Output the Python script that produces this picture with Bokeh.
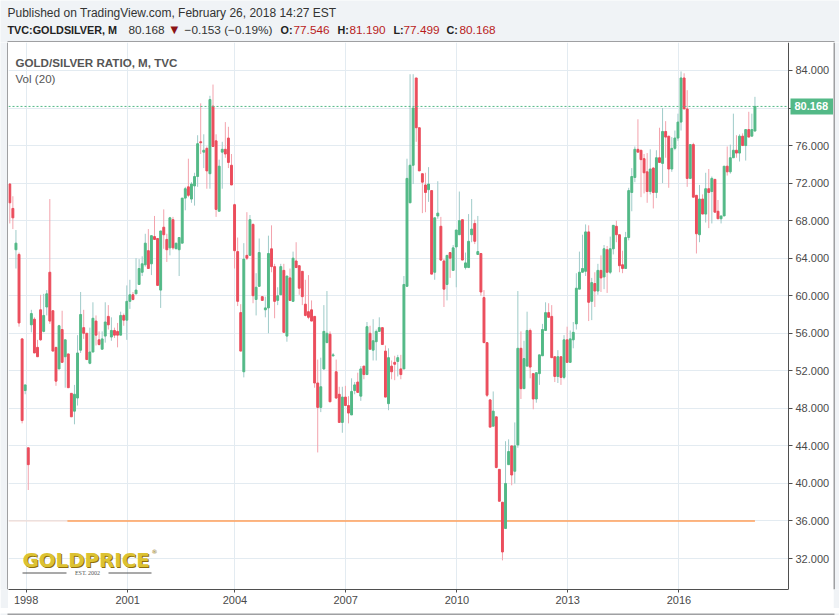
import numpy as np
from bokeh.plotting import figure
from bokeh.models import (ColumnDataSource, Range1d, FixedTicker, NumeralTickFormatter,
                          CustomJSTickFormatter, Label, BoxAnnotation, Span)
from bokeh.layouts import column, row
from bokeh.embed import file_html
from bokeh.resources import INLINE
from bokeh.core.properties import value

# ---------------- data (monthly candles) ----------------
opens = [71.9, 69.3, 64.9, 64.4, 55.4, 49.9, 43.8, 56.9, 57.5, 54.5, 58.5, 56.2, 58.8, 62.5, 58.4, 54.5,
         52.2, 56.4, 53.5, 53.8, 49.6, 47.7, 49.1, 54.2, 56.6, 56.0, 52.8, 54.0, 57.3, 55.3, 54.3, 55.7,
         57.8, 55.6, 56.3, 56.2, 55.8, 57.9, 57.4, 59.4, 60.1, 60.2, 61.2, 62.5, 63.3, 64.8, 63.4, 66.3,
         66.1, 60.6, 67.3, 66.0, 65.1, 68.1, 65.0, 64.9, 65.6, 70.4, 71.6, 70.3, 71.7, 72.7, 76.4, 75.3,
         75.7, 73.0, 80.2, 76.5, 69.0, 75.3, 75.6, 76.8, 73.9, 69.7, 64.7, 58.2, 51.9, 64.3, 64.3, 67.6,
         59.6, 61.0, 59.9, 58.5, 58.7, 65.0, 63.1, 59.5, 60.1, 62.7, 55.7, 61.9, 59.4, 63.7, 63.2, 62.6,
         59.1, 58.3, 58.5, 57.8, 50.7, 48.1, 52.2, 55.0, 55.9, 53.6, 51.9, 49.5, 46.5, 49.2, 48.3, 47.3,
         49.9, 50.8, 49.3, 52.5, 51.6, 56.0, 54.2, 55.1, 56.2, 56.6, 54.1, 48.5, 52.5, 52.9, 53.0, 52.2,
         52.2, 61.0, 69.9, 73.9, 83.2, 77.9, 73.0, 71.8, 71.3, 71.2, 62.5, 68.5, 67.4, 63.7, 61.2, 64.6,
         62.7, 65.2, 66.5, 68.1, 63.0, 63.0, 66.5, 67.7, 64.4, 64.5, 59.8, 55.0, 48.9, 46.1, 47.1, 41.5,
         38.0, 35.2, 42.0, 44.0, 41.3, 44.1, 54.4, 50.1, 52.5, 56.3, 51.7, 49.0, 51.7, 53.6, 56.3, 58.2,
         57.8, 53.5, 51.4, 53.5, 51.3, 55.3, 52.9, 55.3, 57.0, 60.7, 62.5, 62.6, 66.8, 59.4, 61.3, 60.5,
         62.7, 62.0, 64.9, 62.5, 65.0, 67.4, 66.5, 63.3, 62.9, 66.2, 71.0, 72.6, 75.6, 75.5, 74.6, 73.2,
         71.1, 73.6, 71.0, 74.7, 74.1, 77.5, 77.0, 73.5, 75.7, 76.8, 78.5, 83.2, 79.9, 72.5, 76.1, 70.7,
         66.5, 70.3, 68.7, 71.4, 71.1, 72.4, 69.0, 68.2, 68.5, 73.8, 73.2, 74.7, 75.5, 75.2, 77.0, 76.0,
         77.7, 77.0, 77.546]
highs = [72.0, 70.6, 67.0, 64.6, 55.5, 50.5, 43.8, 58.5, 57.7, 55.3, 60.1, 60.2, 60.6, 70.3, 58.4, 54.5,
         56.9, 58.4, 55.3, 53.8, 49.6, 50.5, 55.8, 60.4, 58.5, 56.0, 56.6, 59.3, 57.9, 56.2, 56.2, 59.3,
         59.0, 57.7, 56.6, 57.1, 58.3, 58.1, 61.1, 61.7, 60.4, 64.0, 63.9, 64.2, 66.6, 67.1, 66.4, 68.5,
         66.1, 66.9, 69.2, 66.6, 68.4, 68.4, 65.6, 66.2, 70.4, 71.6, 74.6, 72.1, 73.1, 77.1, 80.5, 77.2,
         75.9, 81.3, 82.5, 77.2, 74.5, 76.4, 78.5, 78.0, 75.1, 69.8, 66.2, 59.1, 65.6, 68.9, 68.6, 67.7,
         62.4, 66.1, 59.9, 59.9, 66.4, 67.5, 63.4, 60.9, 63.4, 63.4, 62.1, 62.9, 64.7, 65.7, 63.2, 62.6,
         61.7, 62.2, 59.5, 57.8, 53.2, 53.4, 59.0, 60.5, 56.2, 53.9, 53.2, 50.3, 50.3, 50.4, 49.3, 51.2,
         50.8, 51.8, 52.5, 52.5, 57.2, 56.8, 57.5, 56.4, 57.7, 56.6, 54.7, 54.4, 53.1, 53.6, 53.7, 53.7,
         62.1, 74.6, 83.6, 83.6, 83.2, 77.9, 73.0, 73.1, 73.7, 71.2, 68.3, 72.2, 68.4, 63.9, 64.3, 64.6,
         65.4, 67.0, 71.1, 68.1, 64.6, 68.7, 70.3, 68.1, 68.5, 64.5, 60.6, 55.0, 49.0, 49.8, 47.1, 41.5,
         38.0, 44.5, 44.7, 44.0, 46.5, 60.5, 56.2, 55.2, 58.3, 56.5, 51.7, 51.8, 53.7, 57.0, 59.3, 59.2,
         59.0, 53.5, 54.2, 53.5, 55.8, 56.7, 56.3, 57.2, 62.4, 64.7, 66.5, 67.6, 67.5, 61.9, 62.5, 63.4,
         64.3, 65.4, 65.3, 66.3, 67.5, 68.0, 66.5, 64.8, 66.8, 71.5, 73.6, 75.9, 78.8, 75.5, 75.1, 75.2,
         75.6, 73.7, 75.5, 77.9, 80.0, 78.6, 77.0, 76.9, 77.6, 79.4, 83.9, 83.7, 81.9, 76.1, 76.3, 70.7,
         71.8, 70.8, 73.1, 73.5, 72.7, 72.4, 70.2, 68.5, 73.8, 75.9, 76.1, 79.4, 77.1, 77.2, 77.3, 77.7,
         79.6, 79.4, 81.19]
lows = [67.7, 67.1, 62.9, 56.7, 46.4, 49.5, 39.3, 56.1, 53.9, 53.5, 55.2, 56.1, 57.9, 57.0, 54.1, 50.4,
        52.2, 52.9, 50.2, 50.2, 47.1, 46.3, 48.3, 53.9, 55.4, 53.2, 52.7, 54.0, 54.7, 54.7, 54.3, 55.0,
        56.4, 55.2, 55.5, 54.5, 55.8, 56.8, 55.3, 58.6, 59.5, 60.2, 61.2, 62.1, 63.1, 62.9, 62.2, 66.0,
        61.1, 58.7, 65.0, 63.6, 64.3, 64.9, 65.0, 62.1, 65.6, 69.1, 70.5, 69.9, 69.6, 71.6, 75.1, 73.6,
        71.4, 71.4, 75.9, 68.4, 69.0, 71.4, 74.7, 73.6, 71.8, 62.9, 58.9, 54.1, 51.3, 63.8, 64.3, 59.2,
        57.9, 61.0, 59.5, 57.7, 56.0, 62.5, 57.6, 59.0, 60.1, 56.1, 55.1, 59.5, 59.4, 63.0, 60.1, 59.0,
        57.8, 57.5, 57.3, 50.2, 43.3, 47.6, 52.1, 55.0, 48.7, 53.5, 49.0, 46.5, 45.4, 48.3, 46.4, 47.3,
        49.5, 49.7, 48.8, 51.1, 51.6, 54.3, 53.1, 53.1, 56.2, 54.8, 49.2, 47.8, 51.1, 51.0, 51.4, 51.1,
        52.2, 61.0, 69.9, 71.9, 76.4, 73.3, 68.8, 68.9, 70.0, 62.3, 61.7, 68.2, 63.7, 58.8, 59.5, 61.9,
        62.7, 60.9, 66.5, 63.8, 62.8, 63.0, 65.7, 65.5, 64.4, 60.0, 55.0, 49.2, 46.0, 46.1, 41.6, 38.1,
        31.8, 35.2, 42.0, 39.8, 40.0, 43.8, 49.0, 50.1, 52.5, 51.2, 47.9, 48.6, 50.5, 53.6, 56.3, 57.7,
        53.4, 50.8, 50.7, 50.5, 51.1, 52.9, 52.9, 54.4, 56.4, 60.7, 62.5, 62.1, 57.3, 57.4, 58.8, 60.1,
        60.4, 60.7, 60.3, 62.3, 64.4, 65.7, 62.5, 62.4, 62.9, 65.9, 69.0, 72.1, 75.3, 70.5, 70.9, 69.9,
        70.8, 69.3, 70.4, 74.2, 72.0, 74.7, 71.5, 73.2, 75.5, 76.5, 77.6, 79.9, 71.6, 72.5, 70.5, 64.5,
        65.7, 68.7, 67.8, 67.2, 67.7, 68.9, 68.2, 67.7, 68.5, 72.8, 73.0, 74.7, 74.7, 74.3, 76.0, 74.4,
        76.9, 77.0, 77.499]
closes = [69.9, 68.3, 65.6, 57.1, 46.7, 50.5, 42.0, 58.1, 53.9, 53.5, 55.3, 57.9, 60.2, 57.3, 54.1, 50.9,
          56.8, 52.9, 55.3, 50.2, 47.1, 49.5, 53.9, 58.0, 56.0, 53.2, 54.0, 57.6, 55.8, 54.8, 55.4, 57.2,
          56.9, 56.3, 55.8, 55.8, 57.9, 57.4, 59.4, 60.1, 59.6, 60.6, 62.9, 63.4, 65.6, 62.9, 66.4, 66.0,
          61.1, 66.9, 66.5, 64.9, 68.3, 65.1, 65.6, 66.2, 70.4, 71.4, 70.7, 71.9, 72.7, 76.2, 76.3, 75.5,
          73.3, 80.9, 75.9, 69.2, 73.8, 75.6, 75.1, 74.2, 71.8, 64.8, 59.4, 54.1, 63.9, 64.0, 68.1, 60.0,
          60.9, 64.6, 59.5, 58.7, 64.5, 63.1, 59.4, 60.0, 63.1, 56.1, 62.1, 59.5, 64.0, 63.0, 60.8, 59.9,
          57.9, 57.7, 57.3, 50.7, 48.1, 50.3, 56.2, 56.0, 48.7, 53.7, 49.1, 46.5, 49.2, 48.3, 47.5, 49.8,
          50.5, 49.7, 52.2, 51.6, 56.7, 54.3, 55.2, 56.2, 56.6, 54.8, 49.2, 53.4, 51.9, 52.7, 53.4, 51.6,
          61.2, 72.5, 73.9, 80.0, 77.9, 73.3, 72.1, 71.0, 71.9, 62.3, 68.3, 68.8, 63.8, 60.7, 64.3, 64.0,
          65.1, 67.0, 68.0, 63.8, 63.5, 65.8, 67.1, 65.8, 64.7, 60.4, 55.0, 49.4, 46.0, 47.7, 41.7, 38.1,
          32.7, 40.0, 43.4, 40.9, 44.0, 54.4, 50.1, 53.3, 56.3, 52.4, 49.0, 51.8, 53.7, 56.4, 58.2, 57.7,
          53.4, 51.4, 53.5, 51.3, 55.3, 52.9, 55.4, 56.1, 60.8, 62.5, 62.9, 66.8, 59.3, 61.4, 60.5, 62.7,
          61.9, 65.0, 62.5, 65.0, 67.5, 66.5, 63.2, 62.9, 66.2, 71.2, 72.7, 75.6, 75.3, 74.5, 73.1, 71.1,
          73.5, 71.0, 74.7, 74.2, 77.5, 76.9, 73.5, 75.7, 76.8, 78.5, 83.2, 79.9, 72.5, 76.1, 70.5, 66.6,
          70.3, 68.7, 71.4, 71.0, 72.5, 68.9, 68.2, 68.5, 73.8, 73.2, 74.7, 75.5, 75.2, 77.0, 76.0, 77.7,
          76.9, 77.7, 80.168]

year_labels = ["1998", "2001", "2004", "2007", "2010", "2013", "2016"]
year_bars = [5.3, 38.3, 73.1, 109.1, 145.2, 181.2, 217.3]     # bar-index position of each year label
price_ticks = [32, 36, 40, 44, 48, 52, 56, 60, 64, 68, 72, 76, 80, 84]
last_price = closes[-1]
prev_close = 80.321
support_level = 36.0
support_start_bar = 18.7

# ---------------- styling / page geometry (px) ----------------
FONT = "Liberation Sans"
UP, DOWN = "#53b987", "#eb4d5c"
UP_WICK, DOWN_WICK = "#9fcbc9", "#f3a3ad"
GRID = "#e3ebf1"
AXIS = "#4f4f4f"
HBG = "#f0f3f6"
W = 839
HH = 42            # header strip (page y 0..41, last row = top edge of chart box)
LW, RW = 8, 6      # side strips (left one ends with box edge, right one starts with box edge)
BH = 7             # bottom strip (first row = bottom edge of chart box)
PW = W - LW - RW   # main figure width  (page x 8..832) = plotting frame width
PH = 615 - HH - BH # main figure height (page y 42..607)
FH = 547           # plotting frame height (page y 42..588)
BB = PH - FH
FRAME_BOTTOM = HH + FH
X0, AXIS_X = -0.42, 252.9                 # bar-index range of the candle area (page x 8..788)
PXU = 780 / (AXIS_X - X0)                 # px per bar
X1 = X0 + PW / PXU                        # frame also holds the price scale (page x 788..832)
Y0, Y1 = 28.70, 86.98
PYU = FH / (Y1 - Y0)


def pad(width, height):
    f = figure(width=width, height=height, x_range=Range1d(0, width), y_range=Range1d(0, height),
               x_axis_type=None, y_axis_type=None, output_backend="svg", toolbar_location=None,
               min_border=0, background_fill_color=HBG, border_fill_color=HBG, outline_line_color=None)
    f.grid.visible = False
    return f


o, h, l, c = (np.array(a, dtype=float) for a in (opens, highs, lows, closes))
n = len(o)
up = c >= o
src = ColumnDataSource(dict(
    x=list(range(n)),
    top=list(np.maximum(o, c)), bottom=list(np.minimum(o, c)),
    high=list(h), low=list(l),
    body=[UP if u else DOWN for u in up],
    wick=[UP_WICK if u else DOWN_WICK for u in up],
))

# ---------------- header ----------------
hdr = pad(W, HH)
hdr.quad(left=[7], right=[834], bottom=[0], top=[1], fill_color=AXIS, line_color=None)


def htext(xs, texts, y_mid, size="11.8px", style="normal", color="#333333", font=FONT):
    hdr.text(x=xs, y=[HH - y_mid] * len(xs), text=texts, text_font=value(font), text_font_size=size,
             text_font_style=style, text_color=color, text_baseline="middle")


chg = last_price - prev_close
htext([7], ["Published on TradingView.com, February 26, 2018 14:27 EST"], 12.3, size="12px")
htext([7, 280, 337, 393, 446], ["TVC:GOLDSILVER, M", "O:", "H:", "L:", "C:"], 29.4,
      size="10.8px", style="bold", color="#222222")
htext([128, 184], [f"{last_price:.3f}", f"\u2212{abs(chg):.3f} (\u2212{abs(chg) / prev_close * 100:.2f}%)"], 29.4)
htext([170], ["\u25bc"], 29.4, size="10px", color="#8b1414", font="DejaVu Sans")
htext([293, 349, 403, 459], [f"{opens[-1]:.3f}", f"{highs[-1]:.3f}", f"{lows[-1]:.3f}", f"{closes[-1]:.3f}"],
      29.4, color="#b91c1c")

# side and bottom strips with the chart box edges
lpad = pad(LW, PH)
lpad.quad(left=[LW - 1], right=[LW], bottom=[0], top=[PH], fill_color=AXIS, line_color=None)
rpad = pad(RW, PH)
rpad.quad(left=[0], right=[1], bottom=[0], top=[PH], fill_color=AXIS, line_color=None)
bpad = pad(W, BH)
bpad.quad(left=[7], right=[834], bottom=[BH - 1], top=[BH], fill_color=AXIS, line_color=None)

# ---------------- main chart ----------------
p = figure(width=PW, height=PH, x_range=Range1d(X0, X1), y_range=Range1d(Y0, Y1),
           y_axis_location="right", output_backend="svg", toolbar_location=None,
           min_border_left=0, min_border_right=0, min_border_top=0, min_border_bottom=BB,
           background_fill_color="white", border_fill_color="white", outline_line_color=None)

p.yaxis.ticker = FixedTicker(ticks=price_ticks)
p.yaxis.formatter = NumeralTickFormatter(format="0.000")
p.yaxis.fixed_location = AXIS_X          # price scale drawn at the right end of the candle area
p.xaxis.ticker = FixedTicker(ticks=year_bars)
p.xaxis.formatter = CustomJSTickFormatter(
    args=dict(pos=year_bars, lab=year_labels),
    code="const i = pos.indexOf(tick); return i < 0 ? '' : lab[i];")
p.xaxis.bounds = (X0, AXIS_X)
for ax in (p.xaxis[0], p.yaxis[0]):
    ax.major_label_text_font = FONT
    ax.major_label_text_font_size = "11px"
    ax.major_label_text_color = "#4a4a4a"
    ax.axis_line_color = AXIS
    ax.major_tick_line_color = AXIS
    ax.major_tick_in = 0
    ax.minor_tick_in = 0
    ax.minor_tick_out = 0
p.yaxis.major_tick_out = 4
p.yaxis.major_label_standoff = 3
p.xaxis.major_tick_out = 3
p.xaxis.major_label_standoff = 3

p.xgrid.grid_line_color = GRID
p.ygrid.grid_line_color = GRID
if "cross_bounds" in p.ygrid[0].properties():
    p.ygrid.cross_bounds = (X0, AXIS_X)
# keep the price-scale strip clean of grid lines
p.quad(left=[AXIS_X], right=[X1], bottom=[Y0], top=[Y1], fill_color="white", line_color=None,
       level="underlay")

# support line (drawing)
p.line([X0, support_start_bar], [support_level, support_level], line_color="#f3d6cf", line_width=1)
p.line([support_start_bar, n - 1], [support_level, support_level], line_color="#ff9f5a", line_width=1.6)

# candles
p.segment(x0="x", y0="high", x1="x", y1="low", source=src, line_color="wick", line_width=1)
p.vbar(x="x", width=0.62, top="top", bottom="bottom", source=src,
       fill_color="body", line_color="body", line_width=1)

# last price line + tag on the price scale
p.line([X0, AXIS_X], [last_price, last_price], line_color=UP, line_dash="2 2", line_width=1)
p.quad(left=[AXIS_X + 2 / PXU], right=[X1], bottom=[last_price - 8 / PYU], top=[last_price + 8 / PYU],
       fill_color=UP, line_color=None, level="overlay")
p.text(x=[AXIS_X + 6 / PXU], y=[last_price], text=[f"{last_price:.3f}"], text_font=value(FONT),
       text_font_size="11px", text_font_style="bold", text_color="white", text_baseline="middle",
       level="overlay")


def flabel(x_page, y_mid_page, text, **kw):
    p.add_layout(Label(x=x_page - LW, y=FRAME_BOTTOM - y_mid_page, x_units="screen", y_units="screen",
                       text=text, text_baseline="middle", **kw))


# legend texts
flabel(15, 61.8, "GOLD/SILVER RATIO, M, TVC", text_font=FONT, text_font_size="11.6px",
       text_font_style="bold", text_color="#555555")
flabel(15, 78.3, "Vol (20)", text_font=FONT, text_font_size="11.6px", text_color="#555555")

# logo
flabel(23, 560.5, "GOLDPRICE", text_font="DejaVu Sans", text_font_size="19.8px", text_font_style="bold",
       text_color="#8d6e0c")
flabel(22, 559.5, "GOLDPRICE", text_font="DejaVu Sans", text_font_size="19.8px", text_font_style="bold",
       text_color="#dcc232")
flabel(151, 551, "\u00ae", text_font="DejaVu Sans", text_font_size="6px", text_color="#8d6e0c")
flabel(87, 572.5, "EST. 2002", text_align="center", text_font="Liberation Serif", text_font_size="6px",
       text_color="#555555")
for x0, x1 in ((22, 66), (108, 151)):
    p.add_layout(BoxAnnotation(left=x0 - LW, right=x1 - LW, bottom=FRAME_BOTTOM - 573, top=FRAME_BOTTOM - 572,
                               left_units="screen", right_units="screen", bottom_units="screen",
                               top_units="screen", fill_color="#555555", fill_alpha=1, line_color=None))

layout = column(hdr, row(lpad, p, rpad, spacing=0), bpad, spacing=0)
open("out.html", "w").write(file_html(layout, INLINE))
